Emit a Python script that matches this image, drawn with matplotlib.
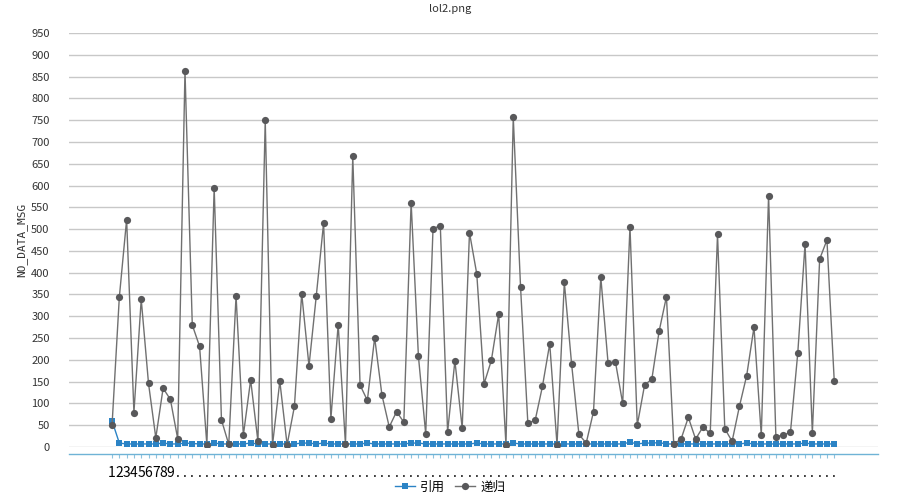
import matplotlib
matplotlib.use("Agg")
import matplotlib.pyplot as plt
import numpy as np

plt.rcParams['font.family'] = ['Noto Sans CJK SC', 'DejaVu Sans']

title = "lol2.png"
ylabel = "NO_DATA_MSG"
series_names = ["引用", "递归"]

recursion = [50, 344, 522, 79, 339, 146, 21, 135, 109, 19,
             863, 280, 231, 5, 595, 62, 6, 347, 27, 154,
             13, 750, 5, 151, 5, 93, 352, 186, 347, 514,
             65, 281, 6, 667, 142, 107, 251, 119, 46, 81,
             57, 561, 208, 30, 501, 508, 34, 198, 43, 492,
             397, 145, 199, 305, 5, 757, 367, 55, 61, 139,
             237, 5, 378, 190, 29, 9, 81, 390, 192, 196,
             100, 505, 50, 142, 156, 266, 345, 7, 18, 68,
             18, 46, 31, 488, 42, 13, 93, 164, 275, 27,
             577, 24, 27, 34, 215, 466, 32, 431, 475, 152]

reference = [60, 9, 7, 7, 7, 7, 7, 9, 7, 7,
             9, 8, 7, 7, 9, 7, 7, 7, 7, 9,
             7, 7, 7, 7, 7, 7, 9, 9, 7, 9,
             7, 7, 7, 7, 7, 9, 7, 7, 7, 7,
             7, 9, 9, 7, 7, 7, 7, 7, 7, 7,
             9, 7, 7, 7, 7, 9, 7, 7, 7, 7,
             7, 7, 7, 7, 7, 7, 7, 7, 7, 7,
             7, 11, 7, 9, 9, 10, 7, 7, 7, 7,
             7, 7, 7, 7, 7, 7, 7, 9, 7, 7,
             7, 7, 7, 7, 7, 9, 7, 7, 7, 7]

categories = [str(i) if i <= 9 else "." for i in range(1, len(recursion) + 1)]
yticks = list(range(0, 1000, 50))

fig = plt.figure(figsize=(9, 5), dpi=100)
ax = fig.add_axes([69/900, 53/500, 809/900, 414/500])

x = np.arange(len(recursion))
ax.plot(x, reference, color="#2b83c5", lw=1, marker="s", markersize=5,
        markeredgewidth=0, label=series_names[0], zorder=3)
ax.plot(x, recursion, color="#707070", lw=1, marker="o", markersize=5.2,
        markerfacecolor="#58585a", markeredgewidth=0, label=series_names[1], zorder=4)

ax.set_xlim(-5.9, len(recursion) - 1 + 6.0)
ax.set_ylim(0, 950)
ax.set_yticks(yticks)
ax.set_yticklabels([str(v) for v in yticks], fontsize=8, color="#333333")
ax.yaxis.grid(True, color="#c8c8c8", lw=1)
ax.set_axisbelow(True)
ax.tick_params(axis="y", length=0, pad=14)

ax.set_xticks(x)
ax.set_xticklabels(categories, fontsize=8, color="#333333")
ax.tick_params(axis="x", length=3, color="#8ec3de", pad=6)

for s in ["top", "right", "left"]:
    ax.spines[s].set_visible(False)
ax.spines["bottom"].set_position(("outward", 5))
ax.spines["bottom"].set_color("#6fb3d6")
ax.spines["bottom"].set_linewidth(1)

fig.text(0.5, 1 - 9/500, title, ha="center", va="center", fontsize=8, color="#333333")
fig.text(22/900, 1 - 240/500, ylabel, rotation=90, ha="center", va="center",
         fontsize=8, color="#333333", family="DejaVu Sans Mono")

leg = ax.legend(loc="center", bbox_to_anchor=(450/900, 1 - 487/500),
                bbox_transform=fig.transFigure, ncol=2, frameon=False,
                fontsize=9, handlelength=1.6, columnspacing=0.8, handletextpad=0.4)

fig.savefig("out.png", dpi=100)
